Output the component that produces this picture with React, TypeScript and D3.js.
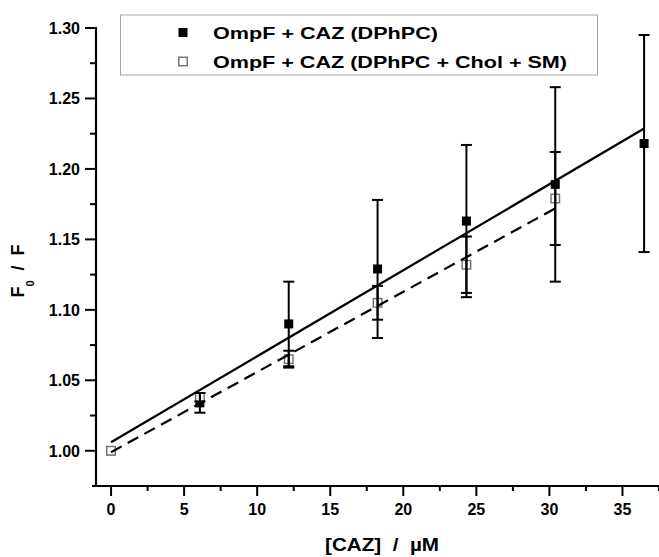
import React from "react";
import * as d3 from "d3";

const concentrations = [0, 6.08, 12.16, 18.24, 24.32, 30.4, 36.48];
const dphpcValues = [1.0, 1.034, 1.09, 1.129, 1.163, 1.189, 1.218];
const dphpcErrors = [0, 0.007, 0.03, 0.049, 0.054, 0.069, 0.077];
const mixConcentrations = [0, 6.08, 12.16, 18.24, 24.32, 30.4];
const mixValues = [1.0, 1.038, 1.065, 1.105, 1.132, 1.179];
const mixErrors = [0, 0.003, 0.006, 0.012, 0.02, 0.033];
const fitDphpcX = [0, 36.48];
const fitDphpcY = [1.006, 1.2287];
const fitMixX = [0, 30.4];
const fitMixY = [0.999, 1.172];
const xTicks = [0, 5, 10, 15, 20, 25, 30, 35];
const xMinorTicks = [2.5, 7.5, 12.5, 17.5, 22.5, 27.5, 32.5, 37.5];
const yTicks = [1.0, 1.05, 1.1, 1.15, 1.2, 1.25, 1.3];
const yMinorTicks = [1.025, 1.075, 1.125, 1.175, 1.225, 1.275];
const legendLabels = ["OmpF + CAZ (DPhPC)", "OmpF + CAZ (DPhPC + Chol + SM)"];

const FONT = "'Liberation Sans', Arial, Helvetica, sans-serif";

export default function App() {
  const x = d3.scaleLinear().domain([-1.03, 37.5]).range([96, 659]);
  const y = d3.scaleLinear().domain([0.975, 1.3]).range([486, 28]);
  const axisY = y(0.975);
  const axisX = x(-1.03);

  const line = d3
    .line<[number, number]>()
    .x((d) => x(d[0]))
    .y((d) => y(d[1]));

  const fitA: [number, number][] = fitDphpcX.map((v, i) => [v, fitDphpcY[i]]);
  const fitB: [number, number][] = fitMixX.map((v, i) => [v, fitMixY[i]]);

  const sq = 9;
  const cap = 5.5;

  const errBar = (cx: number, v: number, e: number, key: string) => {
    if (e <= 0) return null;
    const px = x(cx);
    const y1 = y(v + e);
    const y2 = y(v - e);
    return (
      <g key={key} stroke="#000" strokeWidth={2}>
        <line x1={px} x2={px} y1={y1} y2={y2} />
        <line x1={px - cap} x2={px + cap} y1={y1} y2={y1} />
        <line x1={px - cap} x2={px + cap} y1={y2} y2={y2} />
      </g>
    );
  };

  return (
    <svg
      width={659}
      height={557}
      style={{ position: "absolute", left: 0, top: 0, background: "#fff" }}
      fontFamily={FONT}
    >
      <rect x={0} y={0} width={659} height={557} fill="#fff" />

      {concentrations.map((c, i) => (
        <rect
          key={"f" + i}
          x={x(c) - sq / 2}
          y={y(dphpcValues[i]) - sq / 2}
          width={sq}
          height={sq}
          fill="#000"
        />
      ))}
      {mixConcentrations.map((c, i) => (
        <rect
          key={"o" + i}
          x={x(c) - 4.25}
          y={y(mixValues[i]) - 4.25}
          width={8.5}
          height={8.5}
          fill="#fff"
          stroke="#6e6e6e"
          strokeWidth={1.4}
        />
      ))}
      {concentrations.map((c, i) => errBar(c, dphpcValues[i], dphpcErrors[i], "ef" + i))}
      {mixConcentrations.map((c, i) => errBar(c, mixValues[i], mixErrors[i], "eo" + i))}

      <path d={line(fitA) || ""} fill="none" stroke="#000" strokeWidth={2.2} />
      <path
        d={line(fitB) || ""}
        fill="none"
        stroke="#000"
        strokeWidth={2.2}
        strokeDasharray="12,7"
      />

      <line x1={92} x2={659} y1={axisY} y2={axisY} stroke="#000" strokeWidth={2.2} />
      <line x1={axisX} x2={axisX} y1={y(1.3) - 1} y2={axisY} stroke="#000" strokeWidth={2.2} />
      {xTicks.map((t) => (
        <g key={"xt" + t}>
          <line x1={x(t)} x2={x(t)} y1={axisY} y2={axisY + 10} stroke="#000" strokeWidth={2} />
          <text
            x={x(t)}
            y={514.5}
            textAnchor="middle"
            fontSize={16}
            fontWeight="bold"
            fill="#000"
          >
            {t}
          </text>
        </g>
      ))}
      {xMinorTicks.map((t) => (
        <line key={"xm" + t} x1={x(t)} x2={x(t)} y1={axisY} y2={axisY + 5} stroke="#000" strokeWidth={2} />
      ))}
      {yTicks.map((t) => (
        <g key={"yt" + t}>
          <line x1={axisX - 11} x2={axisX} y1={y(t)} y2={y(t)} stroke="#000" strokeWidth={2} />
          <text
            x={80}
            y={y(t)}
            dy="0.36em"
            textAnchor="end"
            fontSize={16}
            fontWeight="bold"
            fill="#000"
          >
            {t.toFixed(2)}
          </text>
        </g>
      ))}
      {yMinorTicks.map((t) => (
        <line key={"ym" + t} x1={axisX - 6} x2={axisX} y1={y(t)} y2={y(t)} stroke="#000" strokeWidth={2} />
      ))}

      <text
        x={382}
        y={551}
        textAnchor="middle"
        fontSize={18}
        fontWeight="bold"
        fill="#000"
        style={{ whiteSpace: "pre" }}
        textLength={114}
        lengthAdjust="spacingAndGlyphs"
      >
        {"[CAZ]  /  \u00b5M"}
      </text>
      <g transform="translate(24,271) rotate(-90)">
        <text textAnchor="middle" fontSize={18} fontWeight="bold" fill="#000" style={{ whiteSpace: "pre" }}>
          <tspan>F</tspan>
          <tspan fontSize={11} dy={10}>0</tspan>
          <tspan dy={-10}>{"  /  F"}</tspan>
        </text>
      </g>

      <rect x={120.5} y={15} width={477} height={60} fill="#fff" stroke="#a8a8a8" strokeWidth={1} />
      <rect x={183 - 4.5} y={32.5 - 4.5} width={9} height={9} fill="#000" />
      <rect x={183 - 4.25} y={61.5 - 4.25} width={8.5} height={8.5} fill="#fff" stroke="#6e6e6e" strokeWidth={1.4} />
      <text
        x={213}
        y={32.5}
        dy="0.36em"
        fontSize={17}
        fontWeight="bold"
        fill="#000"
        textLength={225}
        lengthAdjust="spacingAndGlyphs"
      >
        {legendLabels[0]}
      </text>
      <text
        x={213}
        y={61.5}
        dy="0.36em"
        fontSize={17}
        fontWeight="bold"
        fill="#000"
        textLength={354}
        lengthAdjust="spacingAndGlyphs"
      >
        {legendLabels[1]}
      </text>
    </svg>
  );
}
